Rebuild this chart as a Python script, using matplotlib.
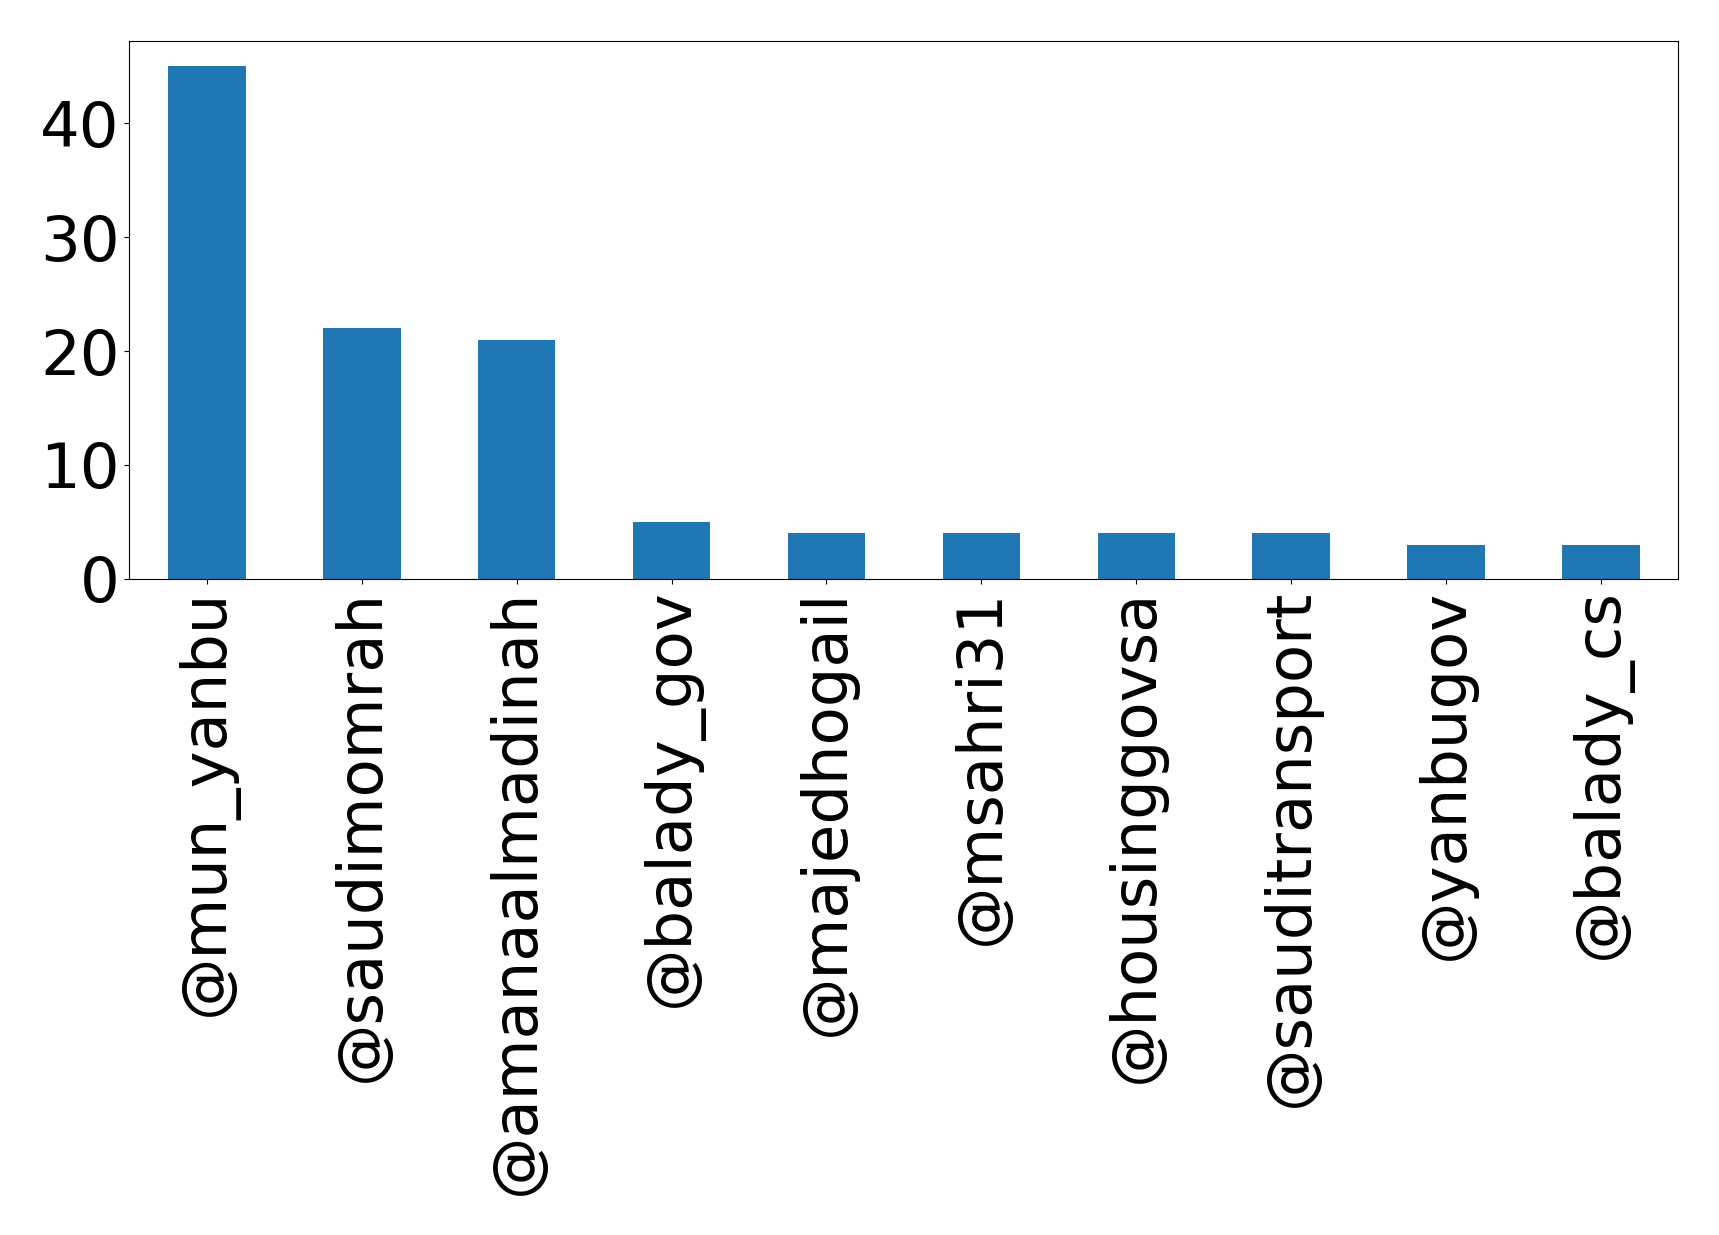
import numpy as np
from matplotlib import pyplot as plt

accounts = ['@mun_yanbu', '@saudimomrah', '@amanaalmadinah', '@balady_gov',
            '@majedhogail', '@msahri31', '@housinggovsa', '@sauditransport',
            '@yanbugov', '@balady_cs']
counts = [45, 22, 21, 5, 4, 4, 4, 4, 3, 3]

fig = plt.figure(figsize=(17.19, 12.35), dpi=100)
ax = fig.add_axes([0.0753, 0.5313, 0.9011, 0.4358])

x = np.arange(len(accounts))
ax.bar(x, counts, width=0.5, color='#1f77b4')
ax.set_xlim(-0.5, len(accounts) - 0.5)
ax.set_xticks(x)
ax.set_xticklabels(accounts, rotation=90, fontsize=45)
ax.set_yticks([0, 10, 20, 30, 40])
ax.tick_params(axis='y', labelsize=45)

fig.savefig('out.png', dpi=100)
